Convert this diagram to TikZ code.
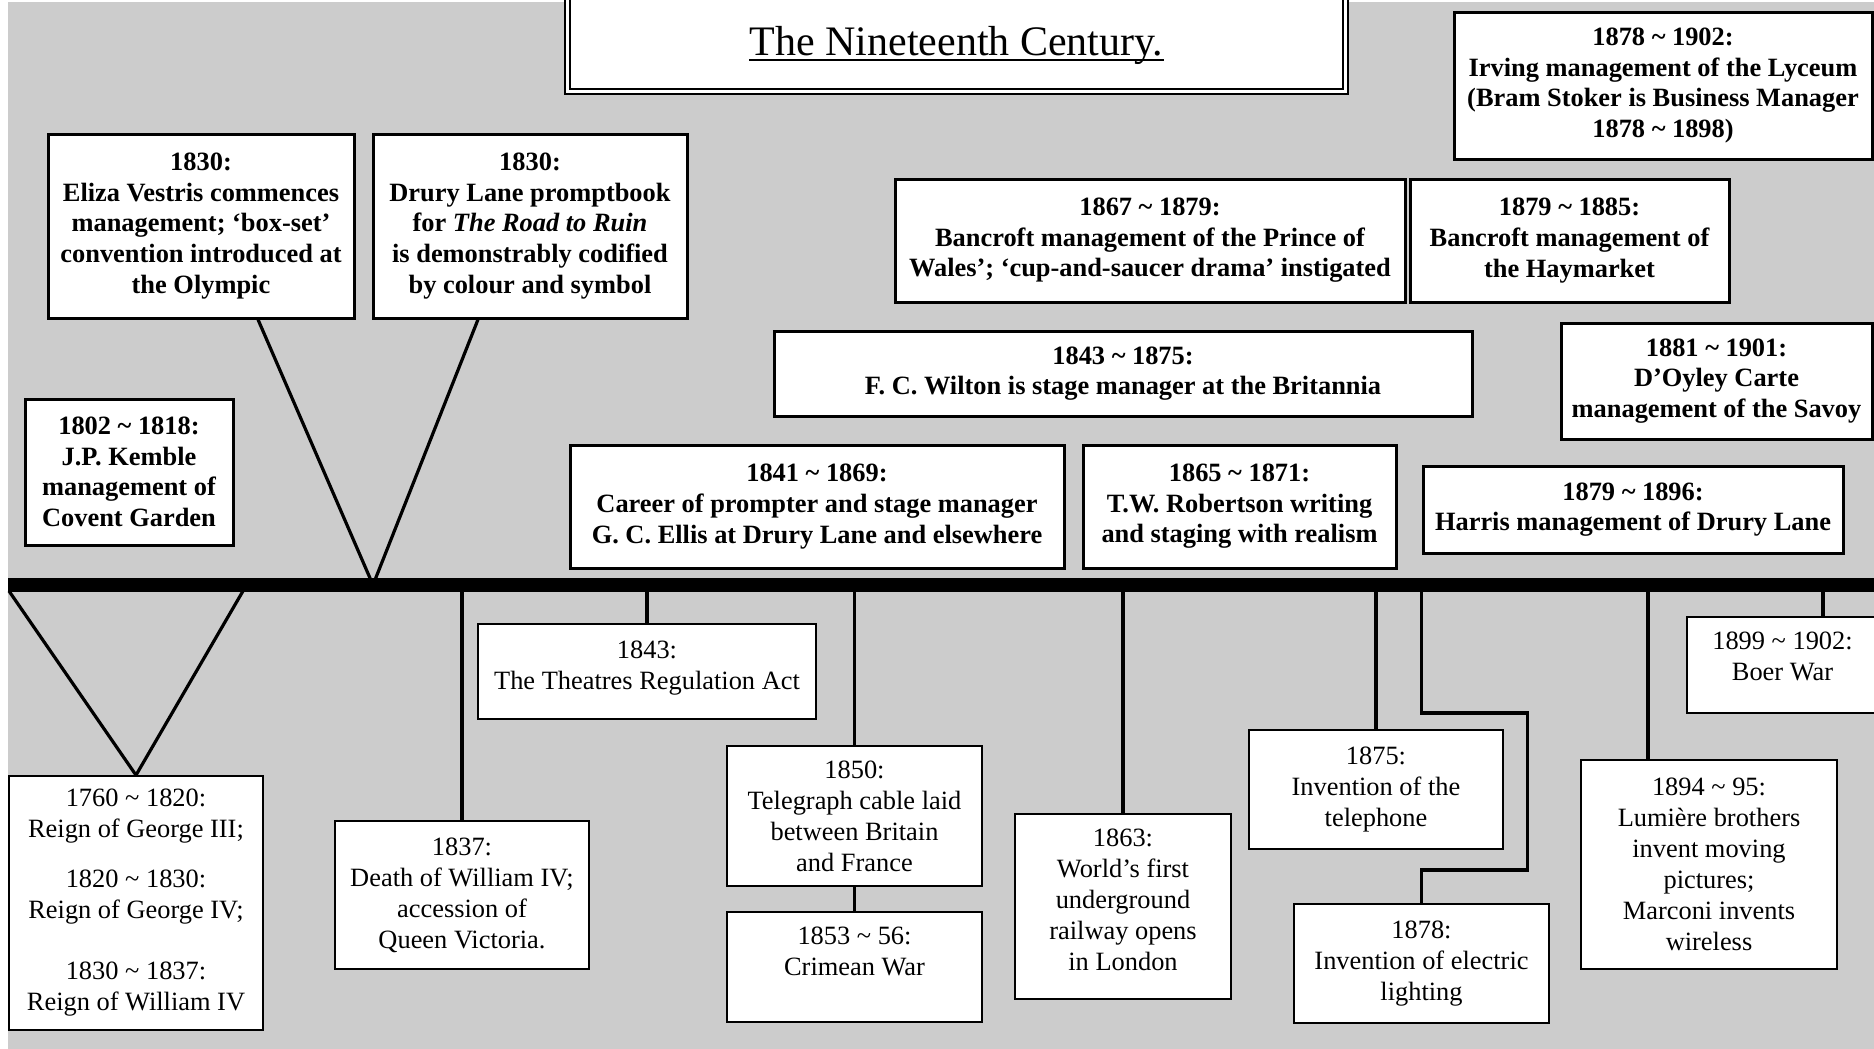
\documentclass[tikz,border=0pt]{standalone}
\usepackage{fontspec}
\setmainfont{Liberation Serif}
\usetikzlibrary{positioning}
\definecolor{bggray}{RGB}{204,204,204}
\newcommand{\tld}{\textasciitilde}

\tikzset{
  upbox/.style={draw, line width=1.5pt, fill=white, align=center, inner sep=0pt,
    font=\bfseries\fontsize{13.2}{15.3}\selectfont},
  lowbox/.style={draw, line width=0.85pt, fill=white, align=center, inner sep=0pt,
    font=\fontsize{13.2}{15.5}\selectfont},
  conn/.style={line width=1.9pt},
  vline/.style={line width=1.6pt},
}

\begin{document}
\begin{tikzpicture}[x=0.5pt,y=-0.5pt]
\useasboundingbox (0,0) rectangle (1874,1049);
\clip (0,0) rectangle (1874,1049);
\fill[white] (0,0) rectangle (1874,1049);
\fill[bggray] (8,2) rectangle (1874,1049);

% title
\draw[line width=1.2pt, fill=white] (565,-10) rectangle (1348,94);
\draw[line width=0.6pt] (570,-10) rectangle (1343,89);
\node[inner sep=0pt, font=\fontsize{21}{24}\selectfont] (title) at (956.5,45) {The Nineteenth Century.};
\draw[line width=0.9pt] ([yshift=-2.5pt]title.base west) -- ([yshift=-2.5pt]title.base east);

\coordinate (barL) at (8,585);
\coordinate (barR) at (1874,585);

% above the line
\node[upbox, minimum width=104pt, minimum height=73pt] (kemble) at (129,472)
  {1802 \tld{} 1818:\\J.P. Kemble\\management of\\Covent Garden};
\node[upbox, minimum width=153pt, minimum height=92pt] (vestris) at (201,226)
  {1830:\\Eliza Vestris commences\\management; ‘box-set’\\convention introduced at\\the Olympic};
\node[upbox, minimum width=157pt, minimum height=92pt] (prompt) at (530,226)
  {1830:\\Drury Lane promptbook\\for \textit{The Road to Ruin}\\is demonstrably codified\\by colour and symbol};
\node[upbox, minimum width=247pt, minimum height=61.5pt] (ellis) at (817,506.5)
  {1841 \tld{} 1869:\\Career of prompter and stage manager\\G. C. Ellis at Drury Lane and elsewhere};
\node[upbox, minimum width=349pt, minimum height=42.5pt] (wilton) at (1123,373.5)
  {1843 \tld{} 1875:\\F. C. Wilton is stage manager at the Britannia};
\node[upbox, minimum width=255pt, minimum height=61.5pt] (pow) at (1150,240.5)
  {1867 \tld{} 1879:\\Bancroft management of the Prince of\\Wales’; ‘cup-and-saucer drama’ instigated};
\node[upbox, minimum width=159.5pt, minimum height=61.5pt] (haymkt) at (1569.5,240.5)
  {1879 \tld{} 1885:\\Bancroft management of\\the Haymarket};
\node[upbox, minimum width=209pt, minimum height=73.5pt] (irving) at (1663,85.5)
  {1878 \tld{} 1902:\\Irving management of the Lyceum\\(Bram Stoker is Business Manager\\1878 \tld{} 1898)};
\node[upbox, minimum width=155.5pt, minimum height=58pt] (savoy) at (1716.5,381)
  {1881 \tld{} 1901:\\D’Oyley Carte\\management of the Savoy};
\node[upbox, minimum width=156.5pt, minimum height=61.5pt] (robertson) at (1239.5,506.5)
  {1865 \tld{} 1871:\\T.W. Robertson writing\\and staging with realism};
\node[upbox, minimum width=210pt, minimum height=43.5pt] (harris) at (1633,509.5)
  {1879 \tld{} 1896:\\Harris management of Drury Lane};

% below the line
\node[lowbox, minimum width=127pt, minimum height=127pt] (reigns) at (136,903)
  {1760 \tld{} 1820:\\Reign of George III;\\[9.5pt]1820 \tld{} 1830:\\Reign of George IV;\\[15pt]1830 \tld{} 1837:\\Reign of William IV};
\node[lowbox, minimum width=127pt, minimum height=74pt] (d1837) at (462,895)
  {1837:\\Death of William IV;\\accession of\\Queen Victoria.};
\node[lowbox, minimum width=169pt, minimum height=47.5pt] (d1843) at (647,671.5)
  {1843:\\The Theatres Regulation Act\\[-8.8pt]\mbox{}};
\node[lowbox, minimum width=127.5pt, minimum height=70pt] (d1850) at (854.5,816)
  {1850:\\Telegraph cable laid\\between Britain\\and France};
\node[lowbox, minimum width=127.5pt, minimum height=55pt] (d1853) at (854.5,967)
  {1853 \tld{} 56:\\Crimean War\\\mbox{}};
\node[lowbox, minimum width=108pt, minimum height=92.5pt] (d1863) at (1123,906.5)
  {1863:\\World’s first\\underground\\railway opens\\in London\\[-8.3pt]\mbox{}};
\node[lowbox, minimum width=127pt, minimum height=59.5pt] (d1875) at (1376,789.5)
  {1875:\\Invention of the\\telephone};
\node[lowbox, minimum width=127.5pt, minimum height=59.5pt] (d1878) at (1421.5,963.5)
  {1878:\\Invention of electric\\lighting};
\node[lowbox, minimum width=128pt, minimum height=104.5pt] (d1894) at (1709,864.5)
  {1894 \tld{} 95:\\Lumière brothers\\invent moving\\pictures;\\Marconi invents\\wireless};
\node[lowbox, minimum width=95.5pt, minimum height=48pt] (d1899) at (1782.5,665)
  {1899 \tld{} 1902:\\Boer War\\[-7.1pt]\mbox{}};

% connectors
\coordinate (apex) at (373,585);
\draw[vline] ([xshift=28.5pt]vestris.south) -- (apex);
\draw[vline] ([xshift=-26pt]prompt.south) -- (apex);
\coordinate (rvL) at (9,591);
\coordinate (rvR) at (243,591);
\draw[vline] (rvL) -- (reigns.north);
\draw[vline] (rvR) -- (reigns.north);
\draw[conn] (d1837.north) -- (d1837.north |- barL);
\draw[conn] (d1843.north) -- (d1843.north |- barL);
\draw[conn] (d1850.north) -- (d1850.north |- barL);
\draw[conn] (d1853.north) -- (d1850.south);
\draw[conn] (d1863.north) -- (d1863.north |- barL);
\draw[conn] (d1875.north) -- (d1875.north |- barL);
\draw[conn, line join=miter] (d1878.north |- barL) -- ++(0,128) -- ++(106,0) -- ++(0,157) -- ++(-106,0) -- (d1878.north);
\draw[conn] ([xshift=-30.5pt]d1894.north) -- ([xshift=-30.5pt]d1894.north |- barL);
\draw[conn] ([xshift=20.25pt]d1899.north) -- ([xshift=20.25pt]d1899.north |- barL);

% time line
\draw[line width=7pt] (barL) -- (barR);
\end{tikzpicture}
\end{document}
